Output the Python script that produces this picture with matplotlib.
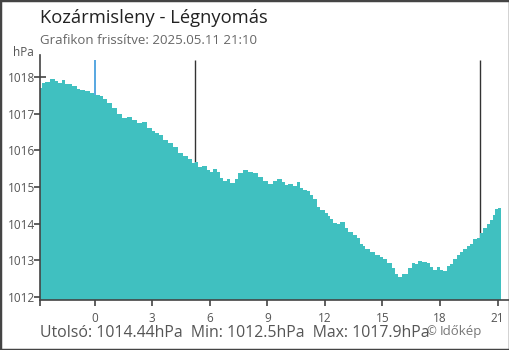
import matplotlib
matplotlib.use("Agg")
import matplotlib.pyplot as plt
from matplotlib.patches import Rectangle

plt.rcParams["font.family"] = ["Open Sans", "DejaVu Sans"]

# hours relative to midnight, pressure in hPa
hours = [-2.84, -2.73, -2.58, -2.32, -2.06, -1.90, -1.69, -1.54, -1.17, -0.91,
         -0.76, -0.49, -0.23, -0.03, 0.29, 0.44, 0.65, 0.91, 1.17, 1.43,
         1.69, 1.95, 2.21, 2.47, 2.73, 2.99, 3.15, 3.36, 3.57, 3.83,
         4.09, 4.35, 4.61, 4.87, 5.08, 5.23, 5.39, 5.60, 5.86, 6.02,
         6.17, 6.38, 6.54, 6.69, 6.90, 7.06, 7.32, 7.47, 7.73, 7.99,
         8.26, 8.52, 8.78, 9.04, 9.30, 9.51, 9.77, 9.92, 10.08, 10.34,
         10.55, 10.70, 10.86, 11.07, 11.22, 11.38, 11.59, 11.74, 12.00, 12.16,
         12.27, 12.42, 12.63, 12.79, 13.05, 13.20, 13.46, 13.67, 13.83, 13.98,
         14.09, 14.35, 14.61, 14.87, 15.03, 15.23, 15.49, 15.65, 15.81, 16.02,
         16.17, 16.33, 16.54, 16.69, 16.85, 17.06, 17.32, 17.47, 17.63, 17.84,
         17.99, 18.15, 18.36, 18.52, 18.67, 18.88, 19.04, 19.19, 19.40, 19.56,
         19.71, 19.92, 20.08, 20.23, 20.44, 20.60, 20.75, 20.86, 21.02]
pressure = [1017.70, 1017.84, 1017.86, 1017.95, 1017.89, 1017.84, 1017.92, 1017.81, 1017.75, 1017.67,
            1017.64, 1017.62, 1017.56, 1017.51, 1017.48, 1017.40, 1017.29, 1017.15, 1016.99, 1016.88,
            1016.91, 1016.83, 1016.74, 1016.77, 1016.61, 1016.52, 1016.47, 1016.42, 1016.28, 1016.20,
            1016.09, 1015.92, 1015.84, 1015.76, 1015.65, 1015.68, 1015.54, 1015.57, 1015.46, 1015.40,
            1015.49, 1015.40, 1015.24, 1015.16, 1015.21, 1015.10, 1015.21, 1015.38, 1015.46, 1015.40,
            1015.38, 1015.27, 1015.16, 1015.08, 1015.16, 1015.21, 1015.13, 1015.05, 1015.08, 1015.02,
            1015.13, 1014.97, 1014.91, 1014.89, 1014.78, 1014.67, 1014.45, 1014.37, 1014.28, 1014.20,
            1014.12, 1014.01, 1013.99, 1014.04, 1013.87, 1013.77, 1013.68, 1013.60, 1013.46, 1013.38,
            1013.30, 1013.22, 1013.14, 1013.08, 1013.05, 1012.92, 1012.78, 1012.64, 1012.54, 1012.64,
            1012.62, 1012.78, 1012.92, 1012.89, 1012.97, 1012.95, 1012.92, 1012.81, 1012.73, 1012.81,
            1012.73, 1012.70, 1012.84, 1012.89, 1013.03, 1013.14, 1013.22, 1013.30, 1013.38, 1013.44,
            1013.57, 1013.60, 1013.74, 1013.87, 1013.98, 1014.10, 1014.25, 1014.39, 1014.44]
END_HOUR = 21.17
midnight = 0.0
sun_lines = [5.23, 20.08]
x_ticks = [0, 3, 6, 9, 12, 15, 18, 21]
y_ticks = [1012, 1013, 1014, 1015, 1016, 1017, 1018]

title = "Kozármisleny - Légnyomás"
subtitle = "Grafikon frissítve: 2025.05.11 21:10"
footer = "Utolsó: 1014.44hPa  Min: 1012.5hPa  Max: 1017.9hPa"

GREY = "#444444"
FILL = "#40c0c0"
BLUE = "#2a8fd8"
Y_LO, Y_HI = 1011.92, 1018.6
X_LO, X_HI = -2.84, 21.59

fig = plt.figure(figsize=(5.1, 3.5), dpi=100)
ax = fig.add_axes([40 / 510, 50 / 350, 469 / 510, 245 / 350])

xs = hours + [END_HOUR]
ys = pressure + [pressure[-1]]
ax.fill_between(xs, Y_LO, ys, step="post", color=FILL, lw=0, zorder=2)

ax.vlines(midnight, Y_LO, 1018.46, color=BLUE, lw=1.1, zorder=1)
ax.vlines(sun_lines, Y_LO, 1018.46, color="#333333", lw=1.0, zorder=1)

ax.set_xlim(X_LO, X_HI)
ax.set_ylim(Y_LO, Y_HI)

for s in ("top", "right"):
    ax.spines[s].set_visible(False)
for s in ("left", "bottom"):
    ax.spines[s].set_color(GREY)
    ax.spines[s].set_linewidth(1.2)

ax.set_xticks([X_LO] + x_ticks)
ax.set_xticklabels([""] + [str(v) for v in x_ticks])
ax.set_yticks(y_ticks)
ax.set_yticklabels([str(v) for v in y_ticks])
ax.tick_params(axis="x", direction="out", length=4.3, width=1.2, color=GREY,
               labelcolor="#555555", labelsize=8.5, pad=4)
ax.tick_params(axis="y", direction="inout", length=9, width=1.2, color=GREY,
               labelcolor="#555555", labelsize=8.5, pad=-1)
ax.get_xticklines()[2].set_color(BLUE)

fig.text(40 / 510, 1 - 18 / 350, title, fontsize=13.2, color="#222222",
         ha="left", va="center")
fig.text(40 / 510, 1 - 40 / 350, subtitle, fontsize=9.5, color="#666666",
         ha="left", va="center")
fig.text(34 / 510, 1 - 52 / 350, "hPa", fontsize=8.5, color="#555555",
         ha="right", va="center")
fig.text(40 / 510, 1 - 333 / 350, footer, fontsize=11.4, color="#555555",
         ha="left", va="center")
fig.text(426 / 510, 1 - 332 / 350, "©", fontsize=8.5, color="#777777",
         ha="left", va="center")
fig.text(440 / 510, 1 - 332 / 350, "Időkép", fontsize=9.5, color="#777777",
         ha="left", va="center")

fig.patches.append(Rectangle((0, 0), 1, 1, transform=fig.transFigure,
                             fill=False, edgecolor=GREY, lw=2.5))

fig.savefig("out.png", dpi=100)
